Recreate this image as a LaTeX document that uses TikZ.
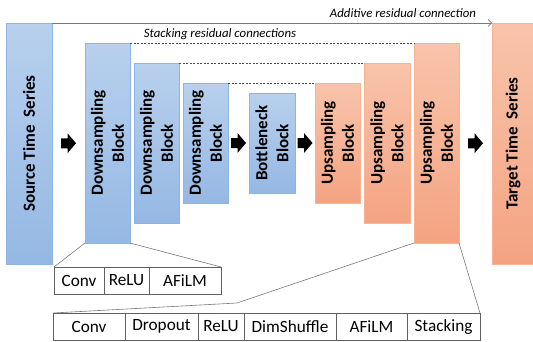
\documentclass[tikz,border=0pt]{standalone}
\usepackage{fontspec}
\setmainfont{Carlito}
\usetikzlibrary{calc,arrows.meta}
\definecolor{bluetop}{RGB}{184,208,237}
\definecolor{bluebot}{RGB}{149,184,228}
\definecolor{blueedge}{RGB}{141,180,226}
\definecolor{ortop}{RGB}{248,196,171}
\definecolor{orbot}{RGB}{244,163,130}
\definecolor{oredge}{RGB}{249,178,146}
\definecolor{cellline}{RGB}{95,95,95}
\definecolor{connline}{RGB}{120,120,120}
\begin{document}
\begin{tikzpicture}[x=1pt,y=-1pt,
  box/.style={draw, line width=0.8pt, outer sep=0pt, inner sep=0pt, anchor=north west},
  bluebox/.style={box, draw=blueedge, top color=bluetop, bottom color=bluebot},
  orbox/.style={box, draw=oredge, top color=ortop, bottom color=orbot},
  boxtext/.style={rotate=90, align=center, inner sep=0pt, font=\fontsize{17}{21}\selectfont\bfseries},
  cell/.style={draw=cellline, line width=0.7pt, outer sep=0pt, inner sep=0pt, anchor=north west, minimum height=27pt, font=\fontsize{17.2}{19}\selectfont},
  note/.style={font=\fontsize{12.8}{15}\selectfont\itshape},
  dashline/.style={draw=black!70, line width=0.5pt, dash pattern=on 2pt off 1.5pt},
  conn/.style={draw=connline, line width=0.6pt},
  blockarrow/.style={fill=black}
]
\useasboundingbox (0,0) rectangle (533,341);

% main boxes
\node[bluebox, minimum width=46pt, minimum height=241pt] (src) at (6,23) {};
\node[bluebox, minimum width=45pt, minimum height=200pt] (d1) at (85,43) {};
\node[bluebox, minimum width=45pt, minimum height=160pt] (d2) at (134,63) {};
\node[bluebox, minimum width=45pt, minimum height=120pt] (d3) at (183,83) {};
\node[bluebox, minimum width=46pt, minimum height=100pt] (bn) at (249,93) {};
\node[orbox, minimum width=45pt, minimum height=120pt] (u1) at (315,83) {};
\node[orbox, minimum width=46pt, minimum height=160pt] (u2) at (364,63) {};
\node[orbox, minimum width=45pt, minimum height=200pt] (u3) at (414,43) {};
\node[orbox, minimum width=42pt, minimum height=241pt] (tgt) at (492,23) {};

% box texts
\node[boxtext] (srct) at (src.center) {Source Time\ \ Series};
\node[boxtext] (d1t) at (d1.center) {Downsampling\\Block};
\node[boxtext] (d2t) at (d2.center) {Downsampling\\Block};
\node[boxtext] (d3t) at (d3.center) {Downsampling\\Block};
\node[boxtext] (bnt) at (bn.center) {Bottleneck\\Block};
\node[boxtext] (u1t) at (u1.center) {Upsampling\\Block};
\node[boxtext] (u2t) at (u2.center) {Upsampling\\Block};
\node[boxtext] (u3t) at (u3.center) {Upsampling\\Block};
\node[boxtext] (tgtt) at (tgt.center) {Target Time\ \ Series};

% residual connections
\draw[conn, -{Straight Barb[length=3.5pt,width=7pt]}] (src.north east) -- (tgt.north west);
\node[note] (addl) at (403,13) {Additive residual connection};
\draw[dashline] (d1.north east) -- (u3.north west);
\draw[dashline] (d2.north east) -- (u2.north west);
\draw[dashline] (d3.north east) -- (u1.north west);
\node[note] (stl) at (220,34) {Stacking residual connections};

% block arrows
\coordinate (a1) at ($(src.east)!0.5!(d1.west)$);
\coordinate (a2) at ($(d3.east)!0.5!(bn.west)$);
\coordinate (a3) at ($(bn.east)!0.5!(u1.west)$);
\coordinate (a4) at ($(u3.east)!0.5!(tgt.west)$);
\foreach \a in {a1,a2,a3,a4}{
  \fill[blockarrow] (\a) ++(-7.5,-5) -- ++(6.5,0) -- ++(0,-5) -- ++(8.5,10) -- ++(-8.5,10) -- ++(0,-5) -- ++(-6.5,0) -- cycle;
}

% small table
\node[cell, minimum width=50pt] (c1) at (54,267) {Conv};
\node[cell, minimum width=45pt] (c2) at (104,267) {ReLU};
\node[cell, minimum width=72pt] (c3) at (149,267) {AFiLM};
\draw[conn] (d1.south west) -- (c1.north west);
\draw[conn] (d1.south east) -- (c3.north east);

% big table
\node[cell, minimum width=72pt] (e1) at (53,313) {Conv};
\node[cell, minimum width=73pt] (e2) at (125,313) {Dropout};
\node[cell, minimum width=46pt] (e3) at (198,313) {ReLU};
\node[cell, minimum width=92pt] (e4) at (244,313) {DimShuffle};
\node[cell, minimum width=71pt] (e5) at (336,313) {AFiLM};
\node[cell, minimum width=73pt] (e6) at (407,313) {Stacking};
\coordinate (bend) at (237,303);
\draw[conn] (u3.south west) -- (bend) -- (e1.north west);
\draw[conn] (u3.south east) -- (e6.north east);
\end{tikzpicture}
\end{document}
